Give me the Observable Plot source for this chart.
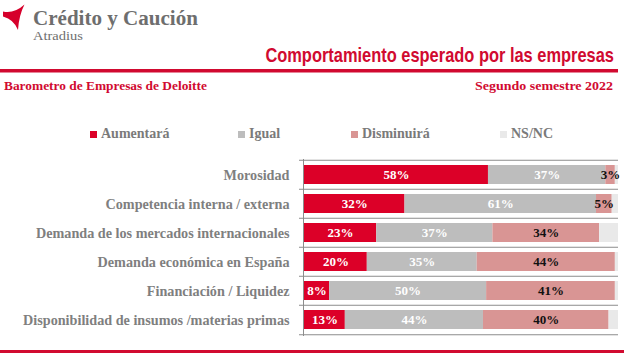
<!DOCTYPE html>
<html>
<head>
<meta charset="utf-8">
<script src="https://cdn.jsdelivr.net/npm/d3@7"></script>
<script src="https://cdn.jsdelivr.net/npm/@observablehq/plot@0.6"></script>
<style>
  html, body { margin: 0; padding: 0; background: #fff; }
  #wrap { position: relative; width: 631px; height: 360px; overflow: hidden; }
  #wrap > svg { position: absolute; left: 0; top: 0; }
  #overlay { pointer-events: none; }
</style>
</head>
<body>
<div id="wrap"></div>
<script>
// ---------- data ----------
const categories = [
  "Morosidad",
  "Competencia interna / externa",
  "Demanda de los mercados internacionales",
  "Demanda económica en España",
  "Financiación / Liquidez",
  "Disponibilidad de insumos /materias primas"
];
const series = ["Aumentará", "Igual", "Disminuirá", "NS/NC"];
const aumentara  = [58, 32, 23, 20, 8, 13];
const igual      = [37, 61, 37, 35, 50, 44];
const disminuira = [3, 5, 34, 44, 41, 40];
const nsnc       = [1, 2, 6, 1, 1, 3];
const colors = ["#dc0028", "#bdbdbd", "#d99594", "#e9e9e9"];

const title = "Comportamiento esperado por las empresas";
const subtitleLeft = "Barometro de Empresas de Deloitte";
const subtitleRight = "Segundo semestre 2022";
const brand = "Crédito y Caución";
const brandSub = "Atradius";

// ---------- table ----------
const valuesBySeries = [aumentara, igual, disminuira, nsnc];
const data = [];
categories.forEach((cat, i) => {
  series.forEach((s, j) => data.push({cat, series: s, value: valuesBySeries[j][i]}));
});

const W = 631, H = 360, mTop = 159, mBottom = 24, mLeft = 304, mRight = 13;
const step = (H - mTop - mBottom) / categories.length;
const gridColor = "#8c8c8c";
const serif = "'Liberation Serif', 'DejaVu Serif', serif";

const chart = Plot.plot({
  width: W, height: H,
  marginTop: mTop, marginBottom: mBottom, marginLeft: mLeft, marginRight: mRight,
  style: {fontFamily: serif, fontSize: "14.2px", fontWeight: "bold", color: "#7f7f7f", background: "transparent", overflow: "visible"},
  x: {axis: null, domain: [0, 1]},
  y: {domain: categories, paddingInner: 0.34, paddingOuter: 0.17, label: null, tickSize: 0, tickPadding: 15},
  color: {domain: series, range: colors},
  marks: [
    Plot.barX(data, Plot.stackX({x: "value", y: "cat", z: "series", fill: "series", offset: "normalize"})),
    Plot.text(data, Plot.stackX({
      x: "value", y: "cat", z: "series", offset: "normalize",
      text: d => (d.series === "Aumentará" || d.series === "Igual") ? d.value + "%" : null,
      fill: "white", fontSize: 13, fontWeight: "bold"
    })),
    Plot.text(data, Plot.stackX({
      x: "value", y: "cat", z: "series", offset: "normalize",
      text: d => d.series === "Disminuirá" ? d.value + "%" : null,
      fill: "#111", fontSize: 13, fontWeight: "bold"
    })),
    Plot.ruleY(categories, {y: d => d, dy: -step / 2, stroke: gridColor, insetLeft: -5}),
    Plot.ruleY([categories[categories.length - 1]], {y: d => d, dy: step / 2, stroke: gridColor, insetLeft: -5}),
    Plot.ruleX([0], {dx: -1, stroke: gridColor})
  ]
});
document.getElementById("wrap").appendChild(chart);

// ---------- header / legend overlay ----------
const ns = "http://www.w3.org/2000/svg";
const ov = document.createElementNS(ns, "svg");
ov.setAttribute("id", "overlay");
ov.setAttribute("width", W);
ov.setAttribute("height", H);
document.getElementById("wrap").appendChild(ov);

function el(tag, attrs, text) {
  const e = document.createElementNS(ns, tag);
  for (const k in attrs) e.setAttribute(k, attrs[k]);
  if (text != null) e.textContent = text;
  ov.appendChild(e);
  return e;
}
// text squeezed horizontally to a target width; anchor "start" at x or "end" at x
function fitText(str, x, y, width, anchor, attrs) {
  const t = el("text", Object.assign({x: 0, y: 0, "text-anchor": anchor}, attrs), str);
  const natural = t.getComputedTextLength();
  const sx = width / natural;
  t.setAttribute("transform", `translate(${x},${y}) scale(${sx},1)`);
  return t;
}
const red = "#d10a30";

// logo emblem
el("path", {d: "M3,11.5 Q14,14 24.5,4.5 Q19,15 18,30 Q14,19.5 3,16.5 Z", fill: "#d6002b"});
fitText(brand, 33, 25, 165, "start", {"font-family": serif, "font-weight": "bold", "font-size": 21, fill: "#6e6e6e"});
fitText(brandSub, 33, 39.5, 50, "start", {"font-family": serif, "font-size": 12, fill: "#6e6e6e"});

// title + red rule
fitText(title, 614, 62, 349, "end", {"font-family": "'Liberation Sans', Roboto, sans-serif", "font-weight": "bold", "font-size": 19.5, fill: red});
el("rect", {x: 0, y: 69, width: 618, height: 3.5, fill: red});

// subtitle row
fitText(subtitleLeft, 4, 89.5, 203, "start", {"font-family": serif, "font-weight": "bold", "font-size": 13.5, fill: red});
fitText(subtitleRight, 613, 89.5, 138, "end", {"font-family": serif, "font-weight": "bold", "font-size": 13.5, fill: red});

// legend
const legendSquareX = [90, 238, 351, 500];
series.forEach((s, i) => {
  el("rect", {x: legendSquareX[i], y: 131, width: 7, height: 7, fill: colors[i]});
  el("text", {x: legendSquareX[i] + 11, y: 137.5, "font-family": serif, "font-weight": "bold", "font-size": 14, fill: "#7a7a7a"}, s);
});

// bottom red rule
el("rect", {x: 0, y: 350, width: 624, height: 3, fill: red});
</script>
</body>
</html>
